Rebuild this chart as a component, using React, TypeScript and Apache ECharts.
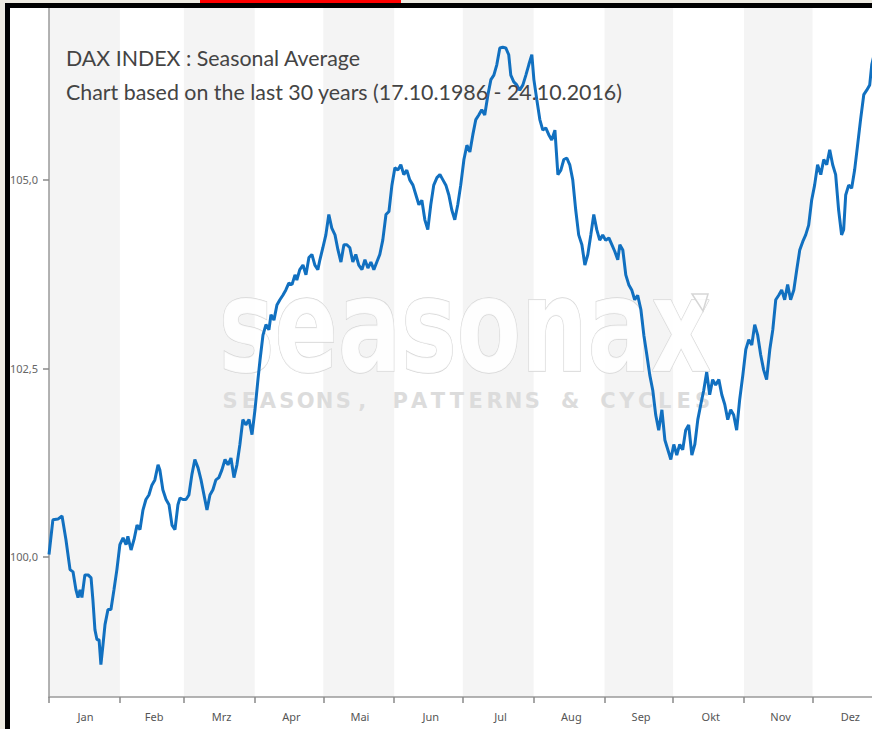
import React, { useEffect, useRef } from "react";
import * as echarts from "echarts";

const months = ["Jan", "Feb", "Mrz", "Apr", "Mai", "Jun", "Jul", "Aug", "Sep", "Okt", "Nov", "Dez"];
const monthStarts = [0, 31, 59, 90, 120, 151, 181, 212, 243, 273, 304, 334, 365];
const monthMids = [16, 46, 75.5, 106, 136, 167, 197.5, 228.5, 259, 289.5, 320, 350.5];
const yTicks = [100, 102.5, 105];

const days = [
  0, 1.7, 3.9, 5.7, 7.4, 9.2, 10.5, 11.8, 12.7, 13.6, 14.4, 15.7, 17.1, 18.4, 19.2, 20.1, 21.0, 21.9, 22.7, 23.6,
  24.5, 25.8, 27.1, 28.4, 29.7, 31.0, 32.4, 33.7, 34.5, 35.9, 37.2, 38.5, 39.8, 41.1, 42.4, 43.7, 45.0, 46.3, 47.7, 48.5,
  49.8, 51.2, 52.5, 53.8, 55.1, 56.4, 57.3, 58.6, 59.9, 61.2, 62.5, 63.8, 65.2, 66.5, 67.8, 69.1, 70.4, 71.7, 73.0, 74.3,
  75.6, 77.0, 78.3, 79.6, 80.9, 82.2, 83.5, 84.8, 86.1, 87.5, 88.8, 90.1, 91.4, 92.3, 93.6, 94.9, 96.2, 97.1, 98.4, 99.7,
  101.0, 102.3, 103.6, 104.9, 106.3, 107.6, 108.4, 109.7, 111.1, 112.4, 113.7, 115.0, 116.3, 117.6, 118.5, 119.8, 121.1, 122.4, 123.7, 125.1,
  126.4, 127.7, 129.0, 130.3, 131.6, 132.9, 134.2, 135.5, 136.9, 138.2, 139.5, 140.8, 142.1, 143.4, 144.7, 146.0, 147.4, 148.7, 150.0, 151.3,
  152.6, 153.9, 155.2, 156.5, 157.8, 159.2, 160.5, 161.8, 163.1, 164.4, 165.7, 167.0, 168.3, 169.7, 171.0, 172.3, 173.6, 174.9, 176.2, 177.5,
  178.8, 180.1, 181.5, 182.8, 184.1, 185.4, 186.7, 188.0, 189.3, 190.6, 192.0, 193.3, 194.6, 195.9, 197.2, 198.5, 199.8, 201.1, 202.0, 203.3,
  204.6, 205.9, 207.3, 208.6, 209.9, 211.2, 212.1, 213.4, 214.7, 216.0, 217.3, 218.6, 219.9, 221.3, 222.6, 223.9, 225.2, 226.5, 227.8, 229.1,
  230.4, 231.7, 233.1, 234.4, 235.7, 237.0, 238.3, 239.6, 240.9, 242.2, 243.5, 244.9, 246.2, 247.5, 248.8, 249.7, 251.0, 252.3, 253.6, 254.9,
  256.2, 257.5, 258.9, 260.2, 261.5, 262.8, 264.1, 265.4, 266.7, 268.1, 269.4, 270.7, 272.0, 273.3, 274.6, 275.9, 277.2, 278.5, 279.8, 281.2,
  282.5, 283.8, 285.1, 286.4, 287.7, 289.0, 290.3, 291.6, 293.0, 294.3, 295.6, 296.9, 298.2, 299.5, 300.8, 302.1, 303.5, 304.8, 306.1, 307.4,
  308.7, 310.0, 311.3, 312.6, 313.9, 315.3, 316.6, 317.9, 319.2, 320.5, 321.8, 323.1, 324.4, 325.8, 327.1, 328.4, 329.7, 331.0, 332.3, 333.6,
  334.9, 336.2, 337.6, 338.9, 340.2, 341.5, 342.8, 344.1, 345.4, 346.7, 347.6, 348.5, 349.8, 351.1, 352.4, 353.7, 355.0, 356.4, 357.7, 359.0,
  359.9, 362.0
];

const values = [
  100.03, 100.49, 100.50, 100.54, 100.23, 99.83, 99.80, 99.56, 99.46, 99.56, 99.46, 99.76, 99.76, 99.72, 99.43, 99.03, 98.90, 98.90, 98.57, 98.83,
  99.10, 99.30, 99.30, 99.56, 99.83, 100.16, 100.25, 100.16, 100.27, 100.09, 100.23, 100.42, 100.36, 100.62, 100.76, 100.82, 100.95, 101.02, 101.22, 101.15,
  100.89, 100.76, 100.69, 100.42, 100.36, 100.69, 100.78, 100.76, 100.76, 100.82, 101.09, 101.29, 101.18, 101.02, 100.82, 100.62, 100.82, 100.89, 101.02, 101.05,
  101.15, 101.29, 101.22, 101.31, 101.05, 101.22, 101.49, 101.82, 101.75, 101.82, 101.62, 101.95, 102.35, 102.61, 102.94, 103.08, 103.01, 103.21, 103.14, 103.34,
  103.41, 103.47, 103.54, 103.63, 103.61, 103.74, 103.67, 103.81, 103.87, 103.74, 103.97, 104.01, 103.87, 103.81, 103.94, 104.10, 104.27, 104.54, 104.36, 104.27,
  104.07, 103.91, 104.14, 104.14, 104.10, 103.91, 104.01, 103.87, 103.81, 103.94, 103.83, 103.91, 103.81, 103.91, 104.01, 104.20, 104.54, 104.58, 104.93, 105.16,
  105.13, 105.20, 105.07, 105.13, 105.00, 104.93, 104.80, 104.67, 104.73, 104.47, 104.34, 104.67, 104.93, 105.03, 105.07, 105.00, 104.93, 104.80, 104.60, 104.47,
  104.67, 104.93, 105.27, 105.46, 105.37, 105.60, 105.80, 105.86, 105.93, 105.86, 106.13, 106.33, 106.39, 106.53, 106.75, 106.76, 106.75, 106.66, 106.39, 106.30,
  106.26, 106.19, 106.26, 106.39, 106.53, 106.66, 106.33, 106.06, 105.80, 105.66, 105.69, 105.60, 105.53, 105.66, 105.07, 105.13, 105.27, 105.29, 105.20, 105.00,
  104.60, 104.27, 104.14, 103.87, 104.01, 104.27, 104.54, 104.34, 104.20, 104.27, 104.20, 104.23, 104.14, 104.05, 103.94, 104.14, 104.07, 103.74, 103.61, 103.54,
  103.41, 103.47, 103.28, 102.94, 102.68, 102.41, 102.21, 101.88, 101.68, 101.95, 101.55, 101.42, 101.29, 101.49, 101.35, 101.49, 101.42, 101.68, 101.75, 101.35,
  101.49, 101.82, 102.02, 102.21, 102.45, 102.15, 102.35, 102.28, 102.35, 102.15, 102.02, 101.82, 101.95, 101.88, 101.68, 102.08, 102.41, 102.75, 102.88, 102.81,
  103.08, 102.94, 102.68, 102.48, 102.35, 102.75, 103.01, 103.41, 103.47, 103.54, 103.41, 103.61, 103.41, 103.54, 103.81, 104.07, 104.18, 104.27, 104.40, 104.73,
  104.93, 105.20, 105.07, 105.27, 105.20, 105.40, 105.20, 105.07, 104.60, 104.27, 104.34, 104.80, 104.93, 104.89, 105.13, 105.46, 105.80, 106.13, 106.19, 106.26,
  106.53, 106.80
];

const titleLines = [
  "DAX INDEX : Seasonal Average",
  "Chart based on the last 30 years (17.10.1986 - 24.10.2016)",
];
const watermarkMain = "seasonax";
const watermarkSub = "SEASONS, PATTERNS & CYCLES";

export default function App() {
  const ref = useRef<HTMLDivElement>(null);

  useEffect(() => {
    document.body.style.margin = "0";
    if (!ref.current) return;
    const chart = echarts.init(ref.current, undefined, { renderer: "svg" });

    const seriesData = days.map((d, i) => [d, values[i]]);
    const bands: any[] = [];
    for (let i = 0; i < 12; i += 2) {
      bands.push([
        { xAxis: monthStarts[i], itemStyle: { color: "#f4f4f4" } },
        { xAxis: monthStarts[i + 1] },
      ]);
    }

    const subChars = watermarkSub.split("");
    const subStep = 18.9;
    const subStart = 230;

    const graphic: any[] = [
      // watermark
      {
        type: "text",
        z: 3,
        silent: true,
        x: 465,
        y: 326,
        scaleX: 0.72,
        style: {
          text: watermarkMain,
          fontSize: 130,
          fontWeight: "bold",
          fontFamily: "DejaVu Sans",
          fill: "rgba(255,255,255,0.85)",
          stroke: "#d6d6d6",
          lineWidth: 1.5,
          align: "center",
          verticalAlign: "middle",
        },
      },
      {
        type: "polygon",
        z: 3,
        silent: true,
        shape: { points: [[692, 294], [708, 294], [703, 311]] },
        style: { fill: "rgba(255,255,255,0.85)", stroke: "#d6d6d6", lineWidth: 1.5 },
      },
      ...subChars.map((c, i) => ({
        type: "text",
        z: 3,
        silent: true,
        x: subStart + i * subStep,
        y: 401,
        style: {
          text: c,
          fontSize: 21,
          fontWeight: "bold",
          fontFamily: "DejaVu Sans",
          fill: "#dcdcdc",
          align: "center",
          verticalAlign: "middle",
        },
      })),
      // title
      ...titleLines.map((t, i) => ({
        type: "text",
        z: 6,
        silent: true,
        x: 66,
        y: 58 + i * 34,
        scaleX: 0.972,
        style: {
          text: t,
          fontSize: 22,
          fontFamily: "Lato",
          fill: "#444444",
          align: "left",
          verticalAlign: "middle",
        },
      })),
      // frame
      { type: "rect", z: 10, silent: true, shape: { x: 0, y: 0, width: 5, height: 729 }, style: { fill: "#edeae1" } },
      { type: "rect", z: 10, silent: true, shape: { x: 0, y: 0, width: 872, height: 3 }, style: { fill: "#edeae1" } },
      { type: "rect", z: 11, silent: true, shape: { x: 5, y: 3, width: 5, height: 726 }, style: { fill: "#000000" } },
      { type: "rect", z: 11, silent: true, shape: { x: 5, y: 3, width: 867, height: 5 }, style: { fill: "#000000" } },
      { type: "rect", z: 12, silent: true, shape: { x: 200, y: 0, width: 201, height: 3 }, style: { fill: "#ff0000" } },
    ];

    chart.setOption({
      animation: false,
      backgroundColor: "#ffffff",
      grid: { left: 49, right: 0, top: 8, bottom: 32, containLabel: false },
      xAxis: {
        type: "value",
        min: 0,
        max: 360,
        axisLine: { show: true, lineStyle: { color: "#9a9a9a", width: 1.5 } },
        axisTick: { show: true, customValues: monthStarts.slice(0, 12), length: 6, lineStyle: { color: "#8a8a8a", width: 1.5 } },
        axisLabel: {
          show: true,
          customValues: monthMids,
          margin: 14,
          color: "#555555",
          fontSize: 11,
          fontFamily: "Noto Sans",
          formatter: (v: number) => months[monthMids.indexOf(v)] ?? "",
        },
        splitLine: { show: false },
      },
      yAxis: {
        type: "value",
        min: 98.14,
        max: 107.28,
        axisLine: { show: true, lineStyle: { color: "#9a9a9a", width: 1.5 } },
        axisTick: { show: true, customValues: yTicks, length: 6, lineStyle: { color: "#8a8a8a", width: 1.5 } },
        axisLabel: {
          show: true,
          customValues: yTicks,
          margin: 11,
          color: "#666666",
          fontSize: 11,
          fontFamily: "Noto Sans",
          formatter: (v: number) => v.toFixed(1).replace(".", ","),
        },
        splitLine: { show: false },
      },
      graphic,
      series: [
        {
          type: "line",
          z: 0,
          silent: true,
          data: seriesData,
          showSymbol: false,
          lineStyle: { opacity: 0, width: 0 },
          markArea: { silent: true, z: 0, data: bands },
        },
        {
          type: "line",
          z: 5,
          data: seriesData,
          showSymbol: false,
          smooth: false,
          lineStyle: { color: "#1170c0", width: 3 },
          itemStyle: { color: "#1170c0" },
        },
      ],
    });

    return () => chart.dispose();
  }, []);

  return <div ref={ref} style={{ width: 872, height: 729 }} />;
}
